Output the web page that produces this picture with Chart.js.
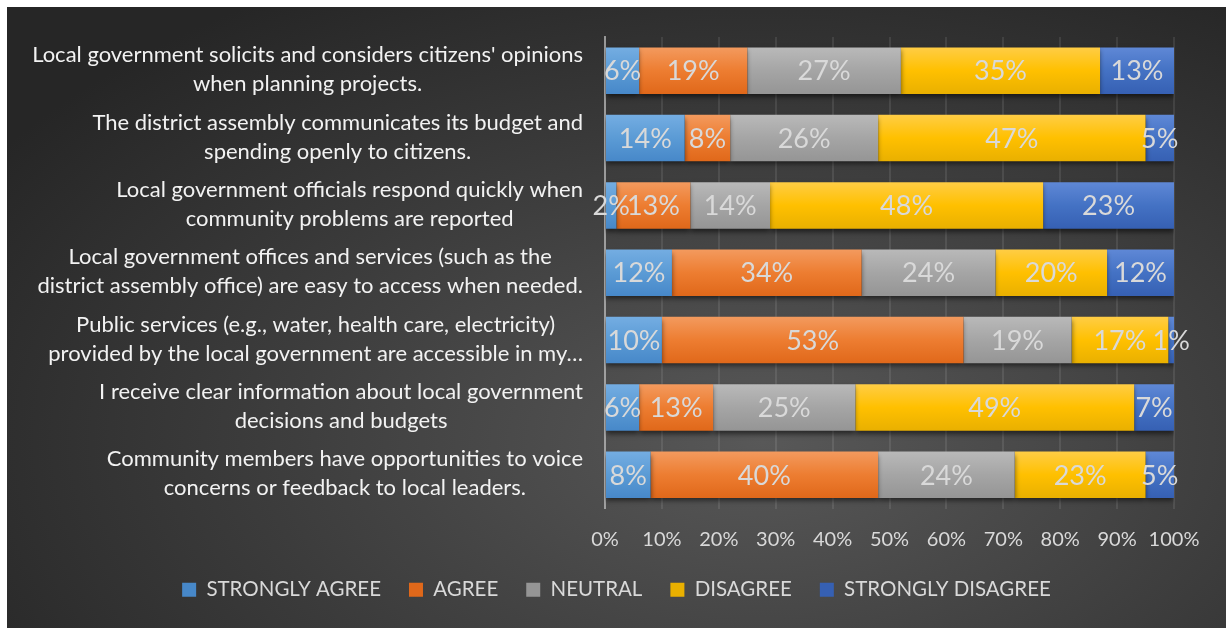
<!DOCTYPE html>
<html>
<head>
<meta charset="utf-8">
<script src="https://cdn.jsdelivr.net/npm/chart.js@4.4.0/dist/chart.umd.min.js"></script>
<style>
  html, body { margin: 0; padding: 0; background: #fff; }
  #panel {
    position: absolute; left: 7px; top: 7px; width: 1219px; height: 621px;
    background: radial-gradient(ellipse 75% 85% at 62% 70%, #585858 0%, #3c3c3c 55%, #262626 100%);
  }
  canvas { display: block; }
</style>
</head>
<body>
<div id="panel"><canvas id="chart" width="1219" height="621"></canvas></div>
<script>
const categories = [
  ["Local government solicits and considers citizens' opinions", "when planning projects."],
  ["The district assembly communicates its budget and", "spending openly to citizens."],
  ["Local government officials respond quickly when", "community problems are reported"],
  ["Local government offices and services (such as the", "district assembly office) are easy to access when needed."],
  ["Public services (e.g., water, health care, electricity)", "provided by the local government are accessible in my\u2026"],
  ["I receive clear information about local government", "decisions and budgets"],
  ["Community members have opportunities to voice", "concerns or feedback to local leaders."]
]

const seriesNames = ['STRONGLY AGREE', 'AGREE', 'NEUTRAL', 'DISAGREE', 'STRONGLY DISAGREE']

const stronglyAgree = [6, 14, 2, 12, 10, 6, 8]
const agree = [19, 8, 13, 34, 53, 13, 40]
const neutral = [27, 26, 14, 24, 19, 25, 24]
const disagree = [35, 47, 48, 20, 17, 49, 23]
const stronglyDisagree = [13, 5, 23, 12, 1, 7, 5]

const xTicks = [0, 10, 20, 30, 40, 50, 60, 70, 80, 90, 100]

const series = [stronglyAgree, agree, neutral, disagree, stronglyDisagree]

// light top / base / dark bottom for each series
const palette = [
  ['#74ade2', '#5b9bd5', '#4788c9'],
  ['#f39a5e', '#ed7d31', '#e0681a'],
  ['#b9b9b9', '#a5a5a5', '#959595'],
  ['#ffcd45', '#ffc000', '#e9b000'],
  ['#5f88d6', '#4472c4', '#3660b3']
]

const FONT = 'Lato'
const BAR_PCT = 0.69

// each row is shown as a share of its own total (100% stacked)
const rowTotals = categories.map((_, j) => series.reduce((s, arr) => s + arr[j], 0))

function barFill(cols) {
  return ctx => {
    const chart = ctx.chart
    const y = chart.scales.y
    if (ctx.type !== 'data' || !y || !chart.chartArea) return cols[1]
    const c = y.getPixelForValue(ctx.dataIndex)
    const half = (y.height / categories.length) * BAR_PCT / 2
    const g = chart.ctx.createLinearGradient(0, c - half, 0, c + half)
    g.addColorStop(0, cols[0])
    g.addColorStop(0.5, cols[1])
    g.addColorStop(1, cols[2])
    return g
  }
}

const categoryText = {
  id: 'categoryText',
  beforeDatasetsDraw(chart) {
    const ctx = chart.ctx
    const y = chart.scales.y
    const right = chart.chartArea.left - 22
    ctx.save()
    ctx.font = `22px ${FONT}`
    ctx.fillStyle = '#f2f2f2'
    ctx.textAlign = 'center'
    ctx.textBaseline = 'middle'
    categories.forEach((lines, j) => {
      const widest = Math.max(...lines.map(l => ctx.measureText(l).width))
      const cx = right - widest / 2
      const cy = y.getPixelForValue(j)
      const lh = 29
      lines.forEach((l, k) => {
        ctx.fillText(l, cx, cy + (k - (lines.length - 1) / 2) * lh - 1)
      })
    })
    ctx.restore()
  }
}

const barShadow = {
  id: 'barShadow',
  beforeDatasetsDraw(chart) {
    const ctx = chart.ctx
    ctx.save()
    ctx.shadowColor = 'rgba(0,0,0,0.55)'
    ctx.shadowBlur = 5
    ctx.shadowOffsetY = 3
  },
  afterDatasetsDraw(chart) {
    chart.ctx.restore()
  }
}

const valueLabels = {
  id: 'valueLabels',
  afterDraw(chart) {
    const ctx = chart.ctx
    ctx.save()
    ctx.font = `27px ${FONT}`
    ctx.fillStyle = '#d9d9d9'
    ctx.textAlign = 'center'
    ctx.textBaseline = 'middle'
    series.forEach((vals, i) => {
      chart.getDatasetMeta(i).data.forEach((bar, j) => {
        const p = bar.getProps(['x', 'y', 'base'], true)
        ctx.fillText(vals[j] + '%', (p.x + p.base) / 2, p.y + 1)
      })
    })
    ctx.restore()
  }
}

new Chart(document.getElementById('chart'), {
  type: 'bar',
  data: {
    labels: categories,
    datasets: series.map((vals, i) => ({
      label: seriesNames[i],
      data: vals.map((v, j) => v / rowTotals[j] * 100),
      backgroundColor: barFill(palette[i]),
      borderWidth: 0,
      categoryPercentage: 1,
      barPercentage: BAR_PCT
    }))
  },
  options: {
    indexAxis: 'y',
    responsive: false,
    animation: false,
    layout: { padding: { top: 30, right: 0, bottom: 18, left: 0 } },
    scales: {
      x: {
        stacked: true,
        min: 0,
        max: 100,
        afterBuildTicks: s => { s.ticks = xTicks.map(v => ({ value: v })) },
        afterFit: s => { s.height = 43 },
        grid: { color: 'rgba(255,255,255,0.09)', lineWidth: 2, drawTicks: false },
        border: { display: false },
        ticks: {
          padding: 19,
          color: '#d9d9d9',
          font: { family: FONT, size: 20 },
          callback: v => v + '%'
        }
      },
      y: {
        stacked: true,
        afterFit: s => { s.width = 598 },
        grid: { display: false },
        border: { color: 'rgba(190,190,190,0.7)', width: 2 },
        ticks: { display: false }
      },
      edge: {
        type: 'linear',
        position: 'right',
        afterFit: s => { s.width = 52 },
        grid: { display: false },
        border: { display: false },
        ticks: { display: false }
      }
    },
    plugins: {
      legend: {
        position: 'bottom',
        labels: {
          boxWidth: 14,
          boxHeight: 14,
          padding: 28,
          color: '#d9d9d9',
          font: { family: FONT, size: 20.5 }
        }
      },
      tooltip: { enabled: false }
    }
  },
  plugins: [categoryText, barShadow, valueLabels]
})
</script>
</body>
</html>
